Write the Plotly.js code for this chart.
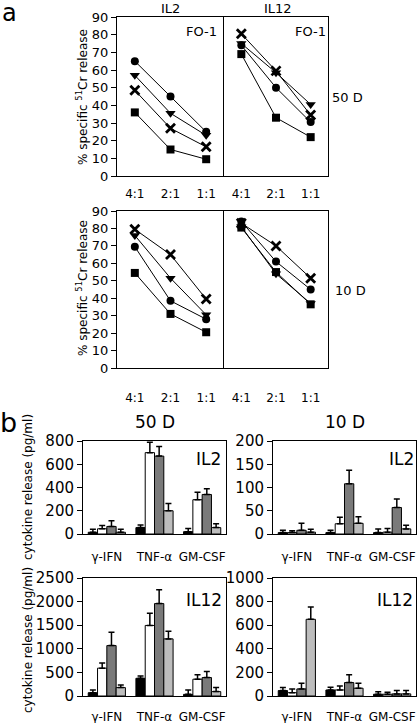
<!DOCTYPE html>
<html><head><meta charset="utf-8">
<script src="https://cdn.plot.ly/plotly-3.0.1.min.js"></script>
<style>html,body{margin:0;padding:0;background:#fff}#chart{width:418px;height:723px}</style>
</head><body><div id="chart"></div>
<script>
// ---------- data ----------
const ratios = ['4:1', '2:1', '1:1'];
// panel a, 50 D
const il2_50_circle = [65, 45, 25];
const il2_50_tri = [57, 35.5, 23];
const il2_50_x = [48.5, 27, 16.5];
const il2_50_sq = [36, 15, 9.5];
const il12_50_circle = [74, 50, 30.5];
const il12_50_tri = [75, 58.5, 40.5];
const il12_50_x = [80.5, 59.5, 34.5];
const il12_50_sq = [69, 33, 22];
// panel a, 10 D
const il2_10_circle = [69.5, 38.5, 28];
const il2_10_tri = [76, 51.5, 30.5];
const il2_10_x = [79.5, 65, 39.5];
const il2_10_sq = [54.5, 31, 20.5];
const il12_10_circle = [84, 61, 45];
const il12_10_tri = [81, 54, 37];
const il12_10_x = [83, 70, 51.5];
const il12_10_sq = [80.5, 55, 36.5];

// panel b
const cytokines = ['γ-IFN', 'TNF-α', 'GM-CSF'];
// IL2, 50 D
const il2_50_black = [15, 55, 20],   il2_50_black_err = [25, 22, 28];
const il2_50_white = [45, 700, 295], il2_50_white_err = [28, 90, 65];
const il2_50_dark  = [65, 670, 340], il2_50_dark_err  = [48, 83, 50];
const il2_50_light = [15, 200, 55],  il2_50_light_err = [25, 63, 34];
// IL2, 10 D
const il2_10_black = [3, 3, 3],     il2_10_black_err = [5, 5, 8];
const il2_10_white = [3, 22, 4],    il2_10_white_err = [4, 14, 8];
const il2_10_dark  = [8, 108, 57],  il2_10_dark_err  = [15, 29, 18];
const il2_10_light = [4, 23, 11],   il2_10_light_err = [6, 14, 8];
// IL12, 50 D
const il12_50_black = [70, 375, 35],     il12_50_black_err = [57, 50, 92];
const il12_50_white = [590, 1495, 356],  il12_50_white_err = [107, 256, 92];
const il12_50_dark  = [1068, 1958, 391], il12_50_dark_err  = [285, 292, 130];
const il12_50_light = [178, 1210, 93],   il12_50_light_err = [57, 164, 85];
// IL12, 10 D
const il12_10_black = [46, 51, 15],   il12_10_black_err = [25, 23, 22];
const il12_10_white = [28, 51, 15],   il12_10_white_err = [32, 34, 16];
const il12_10_dark  = [60, 114, 18],  il12_10_dark_err  = [48, 66, 28];
const il12_10_light = [650, 66, 18],  il12_10_light_err = [105, 42, 28];

// ---------- helpers ----------
const W = 418, H = 723;
const px = v => v / W;
const py = v => 1 - v / H;
const FONT = 'DejaVu Sans, Verdana, sans-serif';

const lineStyles = [
  {symbol: 'circle', size: 8},
  {symbol: 'triangle-down', size: 9},
  {symbol: 'x-thin-open', size: 9, lw: 2.8},
  {symbol: 'square', size: 8}
];
function lineTraces(series, xa, ya) {
  return series.map((vals, i) => {
    const s = lineStyles[i];
    return {
      type: 'scatter', mode: 'lines+markers', x: ratios, y: vals,
      xaxis: xa, yaxis: ya, showlegend: false, cliponaxis: false,
      line: {color: '#000', width: 1},
      marker: {symbol: s.symbol, size: s.size, color: '#000',
               line: {color: '#000', width: s.lw || 0}}
    };
  });
}
const barColors = ['#000000', '#ffffff', '#7a7a7a', '#bdbdbd'];
function barTraces(series, errs, xa, ya) {
  return series.map((vals, i) => ({
    type: 'bar', x: cytokines, y: vals, xaxis: xa, yaxis: ya, showlegend: false,
    marker: {color: barColors[i], line: {color: '#000', width: 1}},
    error_y: {type: 'data', symmetric: false, array: errs[i], arrayminus: vals.map(() => 0),
              color: '#000', thickness: 1.5, width: 3}
  }));
}

const data = [].concat(
  lineTraces([il2_50_circle, il2_50_tri, il2_50_x, il2_50_sq], 'x', 'y'),
  lineTraces([il12_50_circle, il12_50_tri, il12_50_x, il12_50_sq], 'x2', 'y2'),
  lineTraces([il2_10_circle, il2_10_tri, il2_10_x, il2_10_sq], 'x3', 'y3'),
  lineTraces([il12_10_circle, il12_10_tri, il12_10_x, il12_10_sq], 'x4', 'y4'),
  barTraces([il2_50_black, il2_50_white, il2_50_dark, il2_50_light],
            [il2_50_black_err, il2_50_white_err, il2_50_dark_err, il2_50_light_err], 'x5', 'y5'),
  barTraces([il2_10_black, il2_10_white, il2_10_dark, il2_10_light],
            [il2_10_black_err, il2_10_white_err, il2_10_dark_err, il2_10_light_err], 'x6', 'y6'),
  barTraces([il12_50_black, il12_50_white, il12_50_dark, il12_50_light],
            [il12_50_black_err, il12_50_white_err, il12_50_dark_err, il12_50_light_err], 'x7', 'y7'),
  barTraces([il12_10_black, il12_10_white, il12_10_dark, il12_10_light],
            [il12_10_black_err, il12_10_white_err, il12_10_dark_err, il12_10_light_err], 'x8', 'y8')
);

const axLine = {showline: true, linecolor: '#000', linewidth: 1, mirror: true,
                showgrid: false, zeroline: false, fixedrange: true};
function lx(domain, anchor, standoff) {
  return Object.assign({}, axLine, {domain: domain, anchor: anchor, type: 'category',
    range: [-0.5, 2.5], ticks: '', ticklabelstandoff: standoff,
    tickfont: {family: FONT, size: 12, color: '#000'}});
}
function lyLeft(domain, anchor) {
  return Object.assign({}, axLine, {domain: domain, anchor: anchor, range: [0, 90], dtick: 10, tick0: 0,
    mirror: false, ticks: 'outside', ticklen: 5, tickcolor: '#000', tickwidth: 1,
    tickfont: {family: FONT, size: 13, color: '#000'}});
}
function lyRight(domain, anchor) {
  return Object.assign({}, axLine, {domain: domain, anchor: anchor, range: [0, 90],
    showticklabels: false, ticks: ''});
}
function bx(domain, anchor, standoff) {
  return Object.assign({}, axLine, {domain: domain, anchor: anchor, type: 'category', ticks: '',
    ticklabelstandoff: standoff, tickfont: {family: FONT, size: 12, color: '#000'}});
}
function by(domain, anchor, range, dtick) {
  return Object.assign({}, axLine, {domain: domain, anchor: anchor, range: range, dtick: dtick, tick0: 0,
    ticks: 'outside', ticklen: 5, tickcolor: '#000', tickwidth: 1,
    tickfont: {family: FONT, size: 15, color: '#000'}});
}

const lxL = [px(117), px(224)], lxR = [px(224), px(328)];
const ly50 = [py(176), py(17)], ly10 = [py(368), py(211)];
const bxL = [px(83), px(226)], bxR = [px(273), px(416)];
const byT = [py(534), py(441)], byB = [py(696), py(578)];

function ann(text, x, y, size, extra) {
  return Object.assign({text: text, x: px(x), y: py(y), xref: 'paper', yref: 'paper',
    showarrow: false, xanchor: 'center', yanchor: 'middle',
    font: {family: FONT, size: size, color: '#000'}}, extra || {});
}

const layout = {
  width: W, height: H, margin: {l: 0, r: 0, t: 0, b: 0},
  paper_bgcolor: '#fff', plot_bgcolor: '#fff',
  barmode: 'group', bargap: 0.22, bargroupgap: 0,
  xaxis: lx(lxL, 'y', 7), yaxis: lyLeft(ly50, 'x'),
  xaxis2: lx(lxR, 'y2', 7), yaxis2: lyRight(ly50, 'x2'),
  xaxis3: lx(lxL, 'y3', 19), yaxis3: lyLeft(ly10, 'x3'),
  xaxis4: lx(lxR, 'y4', 19), yaxis4: lyRight(ly10, 'x4'),
  xaxis5: bx(bxL, 'y5', 12), yaxis5: by(byT, 'x5', [0, 800], 200),
  xaxis6: bx(bxR, 'y6', 12), yaxis6: by(byT, 'x6', [0, 200], 50),
  xaxis7: bx(bxL, 'y7', 10), yaxis7: by(byB, 'x7', [0, 2500], 500),
  xaxis8: bx(bxR, 'y8', 10), yaxis8: by(byB, 'x8', [0, 1000], 200),
  annotations: [
    ann('a', 9, 13, 24),
    ann('IL2', 170, 9, 13),
    ann('IL12', 278, 9, 13),
    ann('FO-1', 201, 32, 13),
    ann('FO-1', 310, 32, 13),
    ann('50 D', 347, 98, 13),
    ann('10 D', 350, 290, 13),
    ann('% specific <sup>51</sup>Cr release', 82, 97, 12, {textangle: -90}),
    ann('% specific <sup>51</sup>Cr release', 82, 288, 12, {textangle: -90}),
    ann('b', 8, 422, 27),
    ann('50 D', 155, 422, 17),
    ann('10 D', 345, 422, 17),
    ann('IL2', 208, 459, 17),
    ann('IL2', 401, 459, 17),
    ann('IL12', 204, 600, 17),
    ann('IL12', 395, 600, 17),
    ann('cytokine release (pg/ml)', 28, 487, 12, {textangle: -90}),
    ann('cytokine release (pg/ml)', 28, 640, 12, {textangle: -90})
  ]
};

Plotly.newPlot('chart', data, layout, {staticPlot: true, displayModeBar: false});
</script>
</body></html>
